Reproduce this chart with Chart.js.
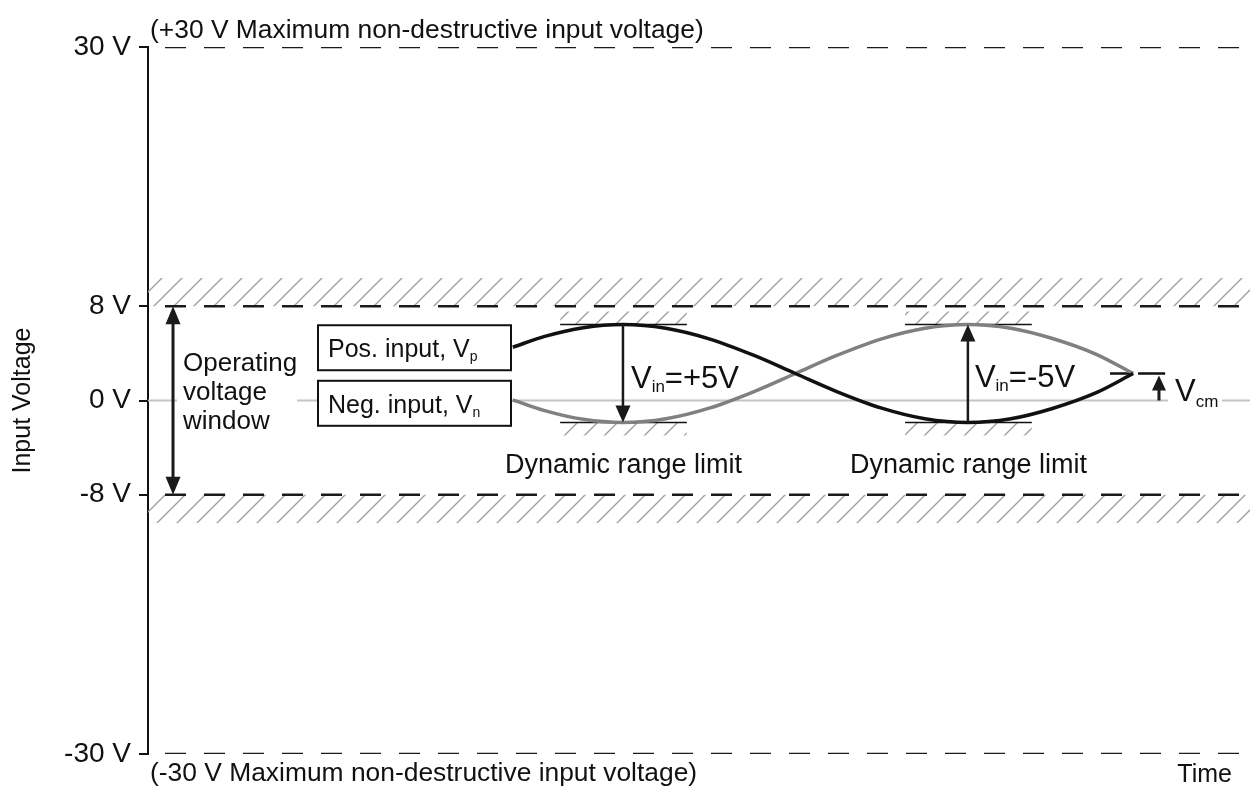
<!DOCTYPE html>
<html>
<head>
<meta charset="utf-8">
<script src="https://cdn.jsdelivr.net/npm/chart.js@4.4.1/dist/chart.umd.min.js"></script>
<style>
  body { margin: 0; background: #fff; }
  #wrap { width: 1250px; height: 788px; }
</style>
</head>
<body>
<div id="wrap"><canvas id="signalChart"></canvas></div>
<script>
// values (time is arbitrary 0..100)
var voltTicks = [-30, -8, 0, 8, 30];
var limitLevels = [30, 8, -8, -30];
var sineTime = [33.1, 36, 39.5, 43.1, 47, 51, 55, 58.75, 62.5, 66.5, 70.5, 74.4, 78.3, 82, 86, 89.4];
var vpVolt = [4.52, 5.44, 6.18, 6.45, 6.13, 5.21, 3.82, 2.29, 0.76, -0.63, -1.55, -1.87, -1.55, -0.70, 0.64, 2.29];
var vnVolt = [0.06, -0.86, -1.60, -1.87, -1.55, -0.63, 0.76, 2.29, 3.82, 5.21, 6.13, 6.45, 6.13, 5.28, 3.94, 2.29];
var peakV = 6.45;
var troughV = -1.87;
var vcm = 2.29;
var rangeWindows = [[37.4, 48.9], [68.7, 80.2]];
var bandOuter = 10.4;
var limitHatch = 1.1;

var FONT = '"Liberation Sans", Arial, sans-serif';
var ctx = document.getElementById('signalChart').getContext('2d');

function hatchPattern() {
  var c = document.createElement('canvas');
  c.width = 20; c.height = 20;
  var g = c.getContext('2d');
  g.strokeStyle = '#a0a0a0';
  g.lineWidth = 1.4;
  g.beginPath();
  g.moveTo(0, 20); g.lineTo(20, 0);
  g.moveTo(-5, 5); g.lineTo(5, -5);
  g.moveTo(15, 25); g.lineTo(25, 15);
  g.stroke();
  return ctx.createPattern(c, 'repeat');
}
var hatch = hatchPattern();

function line(x0, x1, y, extra) {
  var d = {
    data: [{x: x0, y: y}, {x: x1, y: y}],
    pointRadius: 0, borderColor: '#111', borderWidth: 1.5, fill: false, order: 1
  };
  for (var k in extra) d[k] = extra[k];
  return d;
}
function band(x0, x1, yFar, yNear) {
  return {
    data: [{x: x0, y: yFar}, {x: x1, y: yFar}],
    pointRadius: 0, borderWidth: 0, borderColor: 'rgba(0,0,0,0)',
    backgroundColor: hatch, fill: {value: yNear}, order: 5
  };
}

var datasets = [];
datasets.push({
  label: 'Vp', data: sineTime.map(function (t, i) { return {x: t, y: vpVolt[i]}; }),
  borderColor: '#111', borderWidth: 3.5, pointRadius: 0, cubicInterpolationMode: 'monotone', fill: false, order: 0
});
datasets.push({
  label: 'Vn', data: sineTime.map(function (t, i) { return {x: t, y: vnVolt[i]}; }),
  borderColor: '#808080', borderWidth: 3.5, pointRadius: 0, cubicInterpolationMode: 'monotone', fill: false, order: 0.5
});
limitLevels.forEach(function (v) {
  datasets.push(line(0, 100, v, {borderColor: '#1a1a1a', borderWidth: 2.5, borderDash: [21, 18], borderDashOffset: 22, order: 2}));
});
datasets.push(line(0, 100, 0, {borderColor: '#c4c4c4', borderWidth: 2, order: 4}));
rangeWindows.forEach(function (w) {
  datasets.push(line(w[0], w[1], peakV));
  datasets.push(line(w[0], w[1], troughV));
  datasets.push(band(w[0], w[1], peakV + limitHatch, peakV));
  datasets.push(band(w[0], w[1], troughV - limitHatch, troughV));
});
datasets.push(line(87.3, 92.3, vcm, {borderWidth: 2.5, borderDash: [22, 6, 40, 6]}));
datasets.push(band(0, 100, bandOuter, 8));
datasets.push(band(0, 100, -bandOuter, -8));

function arrow(c, x, yFrom, yTo, both, w, head, hw) {
  c.save();
  c.strokeStyle = '#1a1a1a';
  c.fillStyle = '#1a1a1a';
  c.lineWidth = w;
  var dir = yTo > yFrom ? 1 : -1;
  c.beginPath();
  c.moveTo(x, yFrom + (both ? dir * head * 0.8 : 0));
  c.lineTo(x, yTo - dir * head * 0.8);
  c.stroke();
  function tip(y, d) {
    c.beginPath();
    c.moveTo(x, y);
    c.lineTo(x - hw / 2, y - d * head);
    c.lineTo(x + hw / 2, y - d * head);
    c.closePath();
    c.fill();
  }
  tip(yTo, dir);
  if (both) tip(yFrom, -dir);
  c.restore();
}

function subText(c, x, y, parts) {
  parts.forEach(function (p) {
    c.font = p[1] + 'px ' + FONT;
    c.fillText(p[0], x, y + p[2]);
    x += c.measureText(p[0]).width;
  });
}

var notes = {
  id: 'notes',
  afterDraw: function (chart) {
    var c = chart.ctx, xs = chart.scales.x, ys = chart.scales.y, a = chart.chartArea;
    var y0 = ys.getPixelForValue(0);
    c.save();
    c.fillStyle = '#111';
    c.textBaseline = 'alphabetic';
    c.textAlign = 'left';

    c.font = '26.4px ' + FONT;
    c.fillText('(+30 V Maximum non-destructive input voltage)', a.left + 2, ys.getPixelForValue(30) - 9);
    c.fillText('(-30 V Maximum non-destructive input voltage)', a.left + 2, ys.getPixelForValue(-30) + 27);
    c.font = '25px ' + FONT;
    c.textAlign = 'right';
    c.fillText('Time', 1232, 782);
    c.textAlign = 'left';

    // operating window
    c.fillStyle = '#fff';
    c.fillRect(177, y0 - 3, 120, 6);
    c.fillRect(1168, y0 - 3, 54, 6);
    c.fillStyle = '#111';
    arrow(c, xs.getPixelForValue(2.27), ys.getPixelForValue(8), ys.getPixelForValue(-8), true, 3, 18, 15);
    c.font = '26px ' + FONT;
    c.fillText('Operating', 183, y0 - 30);
    c.fillText('voltage', 183, y0 - 1);
    c.fillText('window', 183, y0 + 28);

    // input boxes
    var bx = 318, bw = 193, bh = 45;
    [[ys.getPixelForValue(vpVolt[0]) - 22, 'Pos. input, V', 'p'], [ys.getPixelForValue(vnVolt[0]) - 19, 'Neg. input, V', 'n']].forEach(function (b) {
      c.fillStyle = '#fff';
      c.fillRect(bx, b[0], bw, bh);
      c.strokeStyle = '#111';
      c.lineWidth = 2;
      c.strokeRect(bx, b[0], bw, bh);
      c.fillStyle = '#111';
      subText(c, bx + 10, b[0] + 32, [[b[1], 25, 0], [b[2], 14, 4]]);
    });

    // Vin arrows
    var xa = xs.getPixelForValue(43.1), xb = xs.getPixelForValue(74.4);
    var yp = ys.getPixelForValue(peakV), yt = ys.getPixelForValue(troughV), yc = ys.getPixelForValue(vcm);
    arrow(c, xa, yp, yt, false, 2.5, 17, 15);
    arrow(c, xb, yt, yp, false, 2.5, 17, 15);
    subText(c, xa + 8, yc + 14, [['V', 31, 0], ['in', 17, 4], ['=+5V', 31, 0]]);
    subText(c, xb + 7, yc + 13, [['V', 31, 0], ['in', 17, 4], ['=-5V', 31, 0]]);

    // Vcm
    arrow(c, xs.getPixelForValue(91.74), y0, yc + 2, false, 3, 15, 14);
    subText(c, 1175, y0, [['V', 31, 0], ['cm', 17, 6]]);

    c.font = '27px ' + FONT;
    c.textAlign = 'center';
    rangeWindows.forEach(function (w) {
      c.fillText('Dynamic range limit', xs.getPixelForValue((w[0] + w[1]) / 2), 473);
    });
    c.restore();
  }
};

new Chart(ctx, {
  type: 'line',
  data: { datasets: datasets },
  options: {
    responsive: true,
    maintainAspectRatio: false,
    animation: false,
    layout: { padding: { top: 47, bottom: 34, left: 0, right: 0 } },
    plugins: { legend: { display: false }, tooltip: { enabled: false } },
    scales: {
      x: { type: 'linear', min: 0, max: 100, display: false },
      y: {
        type: 'linear', min: -30, max: 30,
        afterBuildTicks: function (s) { s.ticks = voltTicks.map(function (v) { return {value: v}; }); },
        afterFit: function (s) { s.width = 148; },
        ticks: { callback: function (v) { return v + ' V'; }, font: { size: 28, family: FONT }, color: '#111', padding: 8 },
        grid: { drawOnChartArea: false, tickLength: 9, color: '#111', lineWidth: 2 },
        border: { color: '#111', width: 2 },
        title: { display: true, text: 'Input Voltage', color: '#111', font: { size: 25, family: FONT }, padding: { top: 8, bottom: 0 } }
      }
    }
  },
  plugins: [notes]
});
</script>
</body>
</html>
